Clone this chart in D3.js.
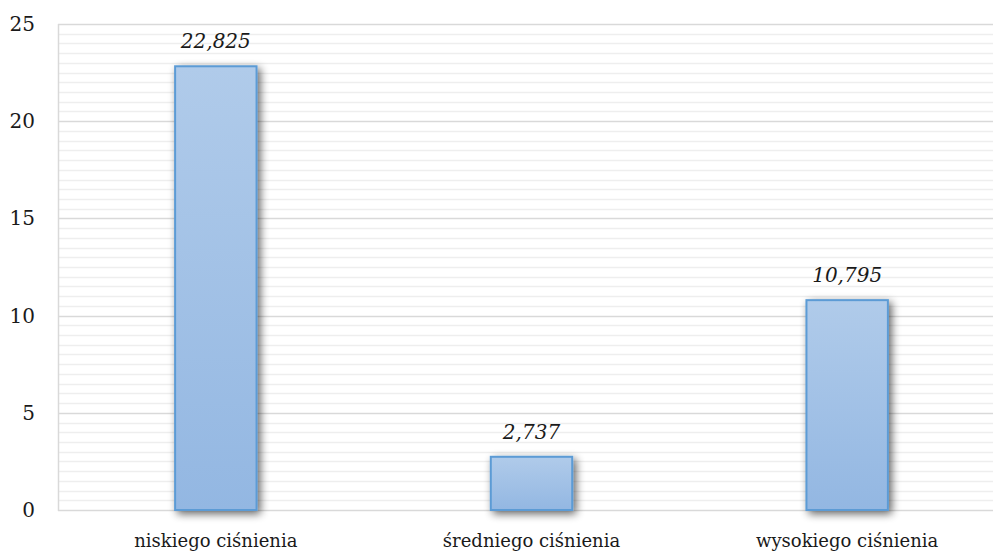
<!DOCTYPE html>
<html>
<head>
<meta charset="utf-8">
<script src="https://cdn.jsdelivr.net/npm/d3@7"></script>
<style>
  html, body { margin: 0; padding: 0; background: #ffffff; }
  svg { display: block; }
</style>
</head>
<body>
<svg id="chart" width="993" height="553"></svg>
<script>
// Categories and their values
const categories = ["niskiego ciśnienia", "średniego ciśnienia", "wysokiego ciśnienia"];
const values = [22.825, 2.737, 10.795];
const valueLabels = ["22,825", "2,737", "10,795"];
const yTicks = [0, 5, 10, 15, 20, 25];
const minorTicks = d3.range(0, 25.01, 0.5);

const FONT = "'DejaVu Serif', 'Liberation Serif', serif";

const svg = d3.select("#chart").attr("font-family", FONT);
const W = 993, H = 553;
const plotLeft = 58, plotRight = 1005, plotTop = 24, plotBottom = 510;

const x = d3.scaleBand().domain(categories).range([plotLeft, plotRight]).paddingInner(0.742).paddingOuter(0.371);
const y = d3.scaleLinear().domain([0, 25]).range([plotBottom, plotTop]);

const defs = svg.append("defs");
const grad = defs.append("linearGradient").attr("id", "barFill")
  .attr("x1", 0).attr("y1", 0).attr("x2", 0).attr("y2", 1);
grad.append("stop").attr("offset", "0%").attr("stop-color", "#b0cbea");
grad.append("stop").attr("offset", "100%").attr("stop-color", "#93b7e2");

const shadow = defs.append("filter").attr("id", "barShadow")
  .attr("x", "-30%").attr("y", "-30%").attr("width", "160%").attr("height", "160%");
shadow.append("feGaussianBlur").attr("in", "SourceAlpha").attr("stdDeviation", 4).attr("result", "blur");
shadow.append("feOffset").attr("in", "blur").attr("dx", 3).attr("dy", 3).attr("result", "off");
shadow.append("feComponentTransfer").attr("in", "off").attr("result", "shade")
  .append("feFuncA").attr("type", "linear").attr("slope", 0.6);
const merge = shadow.append("feMerge");
merge.append("feMergeNode").attr("in", "shade");
merge.append("feMergeNode").attr("in", "SourceGraphic");

// Minor gridlines
svg.append("g").selectAll("line").data(minorTicks.filter(v => v % 5 !== 0)).join("line")
  .attr("x1", plotLeft).attr("x2", W)
  .attr("y1", d => Math.round(y(d)) + 0.5).attr("y2", d => Math.round(y(d)) + 0.5)
  .attr("stroke", "#eeeeee").attr("stroke-width", 1.5);

// Major gridlines
svg.append("g").selectAll("line").data(yTicks).join("line")
  .attr("x1", plotLeft).attr("x2", W)
  .attr("y1", d => Math.round(y(d)) + 0.5).attr("y2", d => Math.round(y(d)) + 0.5)
  .attr("stroke", "#d9d9d9").attr("stroke-width", 1.5);

// Vertical axis line
svg.append("line").attr("x1", plotLeft + 0.5).attr("x2", plotLeft + 0.5)
  .attr("y1", plotTop).attr("y2", plotBottom + 1)
  .attr("stroke", "#d9d9d9").attr("stroke-width", 1.5);

// Y tick labels
svg.append("g").selectAll("text").data(yTicks).join("text")
  .attr("x", 35).attr("y", d => y(d) + 7)
  .attr("text-anchor", "end").attr("font-size", 20).attr("fill", "#1a1a1a")
  .text(d => d);

// Bars
svg.append("g").selectAll("rect").data(values).join("rect")
  .attr("x", (d, i) => x(categories[i]))
  .attr("y", d => y(d))
  .attr("width", x.bandwidth())
  .attr("height", d => y(0) - y(d))
  .attr("fill", "url(#barFill)")
  .attr("stroke", "#5b9bd5").attr("stroke-width", 2)
  .attr("filter", "url(#barShadow)");

// Value labels
svg.append("g").selectAll("text").data(values).join("text")
  .attr("x", (d, i) => x(categories[i]) + x.bandwidth() / 2)
  .attr("y", d => y(d) - 18)
  .attr("text-anchor", "middle").attr("font-size", 20).attr("font-style", "italic").attr("fill", "#1a1a1a")
  .text((d, i) => valueLabels[i]);

// Category labels
svg.append("g").selectAll("text").data(categories).join("text")
  .attr("x", d => x(d) + x.bandwidth() / 2)
  .attr("y", 547)
  .attr("text-anchor", "middle").attr("font-size", 18).attr("fill", "#1a1a1a")
  .text(d => d);
</script>
</body>
</html>
